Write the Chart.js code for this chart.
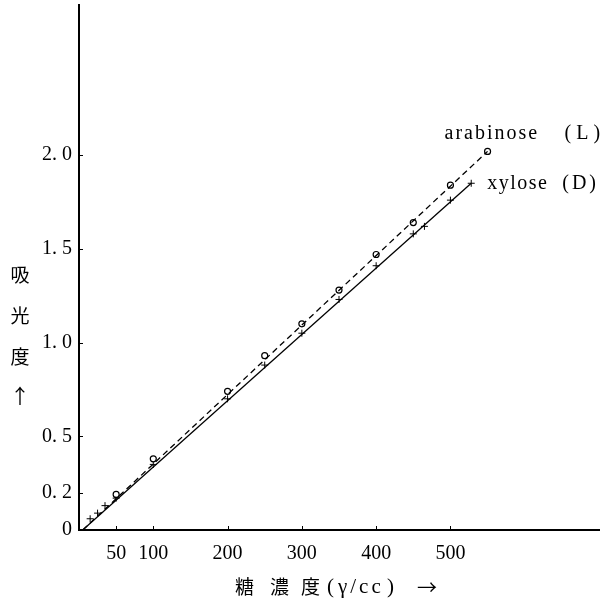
<!DOCTYPE html>
<html>
<head>
<meta charset="utf-8">
<script src="https://cdn.jsdelivr.net/npm/chart.js@4/dist/chart.umd.min.js"></script>
<style>
  html, body { margin: 0; padding: 0; background: #fff; }
</style>
</head>
<body>
<canvas id="c" width="606" height="606"></canvas>
<script>
    // tick values and labels
    const yTicks = [0, 0.2, 0.5, 1.0, 1.5, 2.0];
    const yTickLabels = ["0", "0. 2", "0. 5", "1. 0", "1. 5", "2. 0"];
    const xTicks = [50, 100, 200, 300, 400, 500];

    // measured points
    const araX = [50, 100, 200, 250, 300, 350, 400, 450, 500, 550];
    const araY = [0.19, 0.38, 0.74, 0.93, 1.10, 1.28, 1.47, 1.64, 1.84, 2.02];
    const xylX = [15, 25, 35, 50, 100, 200, 250, 300, 350, 400, 450, 465, 500, 528];
    const xylY = [0.06, 0.09, 0.13, 0.17, 0.35, 0.70, 0.88, 1.05, 1.23, 1.41, 1.58, 1.62, 1.76, 1.85];

    // fitted straight lines (end points)
    const araFitX = [5, 550];
    const araFitY = [0, 2.02];
    const xylFitX = [5, 528];
    const xylFitY = [0, 1.85];

    const serif = '"Liberation Serif", "DejaVu Serif", serif';
    const cjk = '"Noto Sans CJK JP", "Noto Sans CJK SC", sans-serif';

    function pts(xs, ys) {
        return xs.map((x, i) => ({ x: x, y: ys[i] }));
    }

    function noPad(s) {
        s.paddingTop = 0;
        s.paddingBottom = 0;
        s.paddingLeft = 0;
        s.paddingRight = 0;
    }

    // small inward tick marks, line labels, axis titles
    const decor = {
        id: "decor",
        afterDraw(chart) {
            const ctx = chart.ctx;
            const xs = chart.scales.x, ys = chart.scales.y;
            const a = chart.chartArea;
            ctx.save();
            ctx.strokeStyle = "#000";
            ctx.lineWidth = 1;
            yTicks.forEach(v => {
                const y = Math.round(ys.getPixelForValue(v)) + 0.5;
                ctx.beginPath(); ctx.moveTo(a.left, y); ctx.lineTo(a.left + 4, y); ctx.stroke();
            });
            xTicks.forEach(v => {
                const x = Math.round(xs.getPixelForValue(v)) + 0.5;
                ctx.beginPath(); ctx.moveTo(x, a.bottom); ctx.lineTo(x, a.bottom - 4); ctx.stroke();
            });

            ctx.fillStyle = "#000";
            ctx.textBaseline = "middle";
            ctx.textAlign = "left";
            ctx.font = "20px " + serif;
            ctx.letterSpacing = "2px";
            const ax = xs.getPixelForValue(araFitX[1]), ay = ys.getPixelForValue(araFitY[1]);
            ctx.fillText("arabinose", ax - 43, ay - 18);
            ctx.letterSpacing = "5px";
            ctx.fillText("(L)", ax + 77, ay - 18);
            const bx = xs.getPixelForValue(xylFitX[1]), by = ys.getPixelForValue(xylFitY[1]);
            ctx.letterSpacing = "1.5px";
            ctx.fillText("xylose", bx + 16, by);
            ctx.letterSpacing = "3px";
            ctx.fillText("(D)", bx + 91, by);

            // x title
            ctx.letterSpacing = "0px";
            ctx.font = "19px " + cjk;
            const ty = 587;
            ctx.fillText("糖", 235, ty);
            ctx.fillText("濃", 270, ty);
            ctx.fillText("度", 301, ty);
            ctx.font = "21px " + serif;
            ctx.fillText("(", 327, ty);
            ctx.letterSpacing = "3px";
            ctx.fillText("γ/cc", 338, ty);
            ctx.letterSpacing = "0px";
            ctx.fillText(")", 387, ty);
            ctx.font = "20px " + cjk;
            ctx.fillText("→", 417, ty);

            // y title, stacked
            ctx.textAlign = "center";
            ctx.font = "19px " + cjk;
            ["吸", "光", "度"].forEach((ch, i) => ctx.fillText(ch, 20, 275 + i * 41));
            ctx.font = "20px " + cjk;
            ctx.fillText("↑", 20, 396);
            ctx.restore();
        }
    };

    new Chart(document.getElementById("c"), {
        type: "scatter",
        data: {
            datasets: [
                {
                    data: pts(araFitX, araFitY), showLine: true,
                    borderColor: "#000", borderWidth: 1.3, borderDash: [6, 4],
                    pointRadius: 0
                },
                {
                    data: pts(xylFitX, xylFitY), showLine: true,
                    borderColor: "#000", borderWidth: 1.3,
                    pointRadius: 0
                },
                {
                    data: pts(araX, araY),
                    pointStyle: "circle", pointRadius: 3,
                    borderColor: "#000", borderWidth: 1.2, backgroundColor: "#fff"
                },
                {
                    data: pts(xylX, xylY),
                    pointStyle: "cross", pointRadius: 3.5,
                    borderColor: "#000", borderWidth: 1
                }
            ]
        },
        options: {
            responsive: false,
            animation: false,
            layout: { padding: { left: 0, right: 7, top: 3, bottom: 0 } },
            plugins: { legend: { display: false }, tooltip: { enabled: false } },
            scales: {
                x: {
                    type: "linear", min: 0, max: 700,
                    afterBuildTicks: s => { s.ticks = xTicks.map(v => ({ value: v })); },
                    afterFit: s => { s.height = 76; noPad(s); },
                    grid: { drawOnChartArea: false, drawTicks: false },
                    border: { color: "#000", width: 2 },
                    ticks: {
                        padding: 12, color: "#000", autoSkip: false, maxRotation: 0,
                        font: { family: serif, size: 20 }
                    }
                },
                y: {
                    type: "linear", min: 0, max: 2.8,
                    afterBuildTicks: s => { s.ticks = yTicks.map(v => ({ value: v })); },
                    afterFit: s => { s.width = 79; noPad(s); },
                    grid: { drawOnChartArea: false, drawTicks: false },
                    border: { color: "#000", width: 2 },
                    ticks: {
                        padding: 7, color: "#000", autoSkip: false,
                        font: { family: serif, size: 20 },
                        callback: (v, i) => yTickLabels[i]
                    }
                }
            }
        },
        plugins: [decor]
    });
</script>
</body>
</html>
